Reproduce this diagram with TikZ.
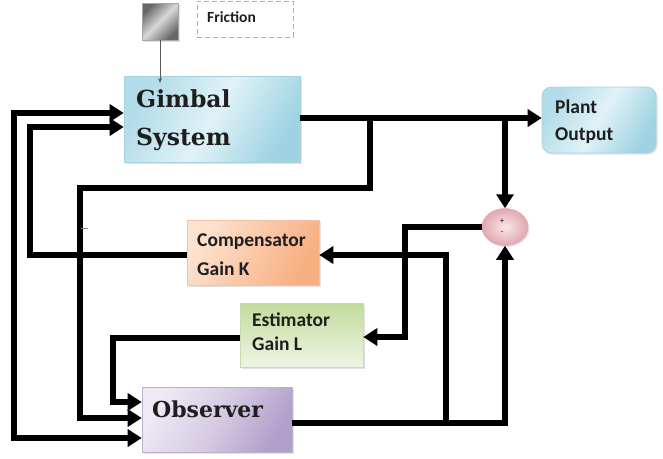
\documentclass[tikz,border=0pt]{standalone}
\usepackage{fontspec}
\setmainfont{Carlito}
\newfontfamily\cambria{DejaVu Serif}
\usetikzlibrary{arrows.meta,shadows,shapes.geometric,calc}
\definecolor{txt}{HTML}{1E1E1E}
\definecolor{gimA}{HTML}{9FD3E3}
\definecolor{gimB}{HTML}{E0F2F7}
\definecolor{gimL}{HTML}{A8D2DE}
\definecolor{cmpA}{HTML}{F7AE80}
\definecolor{cmpB}{HTML}{FDE2D0}
\definecolor{cmpL}{HTML}{F2C2A4}
\definecolor{estA}{HTML}{C2DB9C}
\definecolor{estB}{HTML}{EEF5E4}
\definecolor{estL}{HTML}{C9DCAE}
\definecolor{obsA}{HTML}{B29FCB}
\definecolor{obsB}{HTML}{EEE9F4}
\definecolor{obsL}{HTML}{BDB0CF}
\definecolor{sumA}{HTML}{E2A7B0}
\definecolor{sumB}{HTML}{F8E6E8}
\definecolor{fricL}{HTML}{B3B57A}
\begin{document}
\begin{tikzpicture}[x=1pt,y=-1pt,
  wire/.style={line width=6pt,black},
  tipa/.tip={Triangle[length=14pt,width=17pt]},
  arr/.style={wire,-tipa},
  boxshadow/.style={drop shadow={opacity=0.22,shadow xshift=1.5pt,shadow yshift=-1.5pt}},
  blk/.style={draw,line width=0.6pt,inner sep=0pt,boxshadow},
  lbl/.style={anchor=base west,inner sep=0pt,text=txt,font=\fontsize{19.5}{20}\selectfont\bfseries},
  big/.style={anchor=base west,inner sep=0pt,text=txt,font=\cambria\bfseries\fontsize{23.5}{24}\selectfont}]
\useasboundingbox (0,0) rectangle (663,458);
\fill[white] (0,0) rectangle (663,458);

% blocks
\node[blk,draw=gray!70,minimum width=36pt,minimum height=37pt,
      left color=gray!80!black,right color=gray!80!black,middle color=gray!30,shading angle=45] (grey) at (160,21.5) {};
\node[draw=fricL,dash pattern=on 5pt off 3pt,line width=0.9pt,minimum width=96pt,minimum height=36pt,inner sep=0pt] (fbox) at (245,19) {};
\node[blk,draw=gimL,minimum width=176pt,minimum height=86pt,
      left color=gimA!80,right color=gimA,middle color=gimB,shading angle=60] (gim) at (212,119) {};
\node[blk,draw=gimL,rounded corners=9pt,minimum width=114pt,minimum height=66pt,
      left color=gimA!80,right color=gimA,middle color=gimB,shading angle=60] (plant) at (599,120) {};
\node[blk,draw=cmpL,minimum width=132pt,minimum height=65pt,
      left color=cmpB,right color=cmpA,shading angle=60] (comp) at (253,252.5) {};
\node[blk,draw=estL,minimum width=123pt,minimum height=64pt,
      top color=estA,bottom color=estB] (est) at (301.5,335) {};
\node[blk,draw=obsL,minimum width=150pt,minimum height=65pt,
      left color=obsB,right color=obsA,middle color=obsB!60!obsA,shading angle=60] (obs) at (217,419.5) {};
\node[ellipse,draw=sumA,line width=0.5pt,minimum width=46pt,minimum height=37pt,inner sep=0pt,
      inner color=sumB,outer color=sumA,boxshadow] (sum) at (505,227) {};

% texts
\node[anchor=base west,inner sep=0pt,text=txt,font=\fontsize{15.5}{16}\selectfont\bfseries] (tfric) at (207,22) {Friction};
\node[big] (tgim1) at (136,107) {Gimbal};
\node[big] (tgim2) at (136,145) {System};
\node[lbl] (tpl1) at (555,113) {Plant};
\node[lbl] (tpl2) at (555,140) {Output};
\node[lbl] (tcm1) at (197,246) {Compensator};
\node[lbl] (tcm2) at (197,275) {Gain K};
\node[lbl] (tes1) at (252,326) {Estimator};
\node[lbl] (tes2) at (252,350) {Gain L};
\node[big,font=\cambria\bfseries\fontsize{22}{23}\selectfont] (tobs) at (152,417) {Observer};
\node[inner sep=0pt,font=\fontsize{8}{8}\selectfont] (tplus) at (502,221) {+};
\node[inner sep=0pt,font=\fontsize{8}{8}\selectfont] (tminus) at (502,233) {-};

% helper coordinates
\coordinate (xa) at (14,0);
\coordinate (xb) at (30,0);
\coordinate (xc) at (80,0);
\coordinate (xd) at (113,0);
\coordinate (xe) at (370,0);
\coordinate (xf) at (405,0);
\coordinate (xg) at (446,0);
\coordinate (yb) at (0,188);
\coordinate (fa) at (160,83);
\coordinate (tk1) at (81,228);
\coordinate (tk2) at (88,228);
\coordinate (g1) at ([yshift=6pt]gim.west);
\coordinate (g2) at ([yshift=-8pt]gim.west);
\coordinate (go) at ([yshift=1pt]gim.east);
\coordinate (o1) at ([yshift=17.5pt]obs.west);
\coordinate (o2) at ([yshift=1.5pt]obs.west);
\coordinate (o3) at ([yshift=-18.5pt]obs.west);
\coordinate (oo) at ([yshift=-3.5pt]obs.east);
\coordinate (ci) at ([yshift=-2.5pt]comp.east);
\coordinate (co) at ([yshift=-2.5pt]comp.west);
\coordinate (ei) at ([yshift=-2pt]est.east);
\coordinate (eo) at ([yshift=-3pt]est.west);

% connectors
\draw[gray!70!black,line width=0.8pt,-{Stealth[length=5pt,width=4pt]}] (grey.south) -- (fa);
\draw[arr] (go) -- (go -| plant.west);
\draw[arr] (go -| sum.north) -- (sum.north);
\draw[arr] (go -| xe) -- (xe |- yb) -- (xc |- yb) -- (xc |- o2) -- (o2);
\draw[arr] (oo) -- (oo -| sum.south) -- (sum.south);
\draw[arr] (oo -| xg) |- (ci);
\draw[arr] (sum.west) -- (sum.west -| xf) |- (ei);
\draw[arr] (eo) -- (eo -| xd) |- (o1);
\draw[wire,tipa-tipa] (g1) -- (g1 -| xa) -- (xa |- o3) -- (o3);
\draw[arr] (co) -- (co -| xb) |- (g2);
\draw[gray,line width=0.6pt] (tk1) -- (tk2);
\end{tikzpicture}
\end{document}
